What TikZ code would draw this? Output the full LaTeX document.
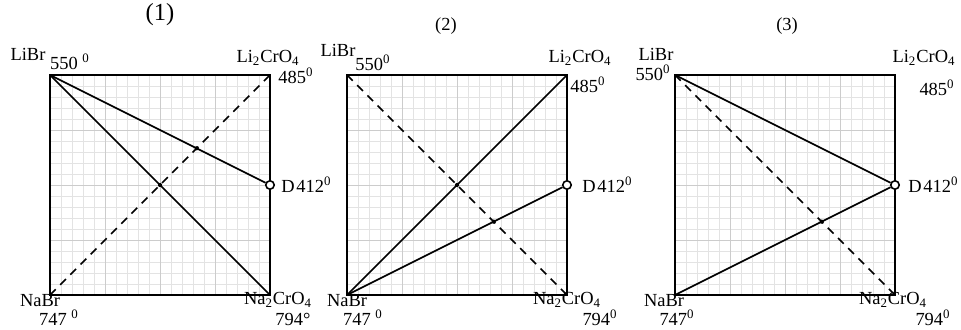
\documentclass[tikz,border=0pt]{standalone}
\usepackage{fontspec}
\setmainfont{Liberation Serif}
\usepackage{tikz}
\usetikzlibrary{
  positioning,
  calc
}
\definecolor{GridMinor}{HTML}{E3E3E3}
\definecolor{GridMajor}{HTML}{CCCCCC}
\tikzset{
  side/.style={
    line width=1.4pt,
    line cap=rect
  },
  tie/.style={
    line width=1pt
  },
  diagonal/.style={
    line width=1pt,
    dash pattern=on 4.6pt off 3.6pt
  },
  minorline/.style={
    draw=GridMinor,
    line width=0.4pt
  },
  majorline/.style={
    draw=GridMajor,
    line width=0.5pt
  },
  salt/.style={
    inner sep=0pt,
    font=\fontsize{10.5}{12}\selectfont
  },
  title/.style={
    inner sep=0pt,
    font=\fontsize{10.5}{12}\selectfont
  },
  eutectic/.style={
    circle,
    draw,
    fill=white,
    line width=0.9pt,
    minimum size=4.8pt,
    inner sep=0pt
  },
  crossing/.style={
    fill=black
  }
}

\begin{document}
\begin{tikzpicture}[
  x=0.02cm,
  y=0.02cm
]

  \useasboundingbox (0,0) rectangle (961,329);

  % ---------- diagram (1)
  \begin{scope}[shift={(50,34)}]
    \foreach \g in {11,22,...,209} {
      \draw[minorline] (\g,0) -- (\g,220);
      \draw[minorline] (0,\g) -- (220,\g);
    }
    \foreach \g in {55,110,165} {
      \draw[majorline] (\g,0) -- (\g,220);
      \draw[majorline] (0,\g) -- (220,\g);
    }

    \coordinate (libr1) at (0,220);
    \coordinate (licr1) at (220,220);
    \coordinate (nabr1) at (0,0);
    \coordinate (nacr1) at (220,0);
    \coordinate (dp1) at (220,110);

    \draw[side]
    (nabr1) rectangle
    (licr1);

    \draw[diagonal]
    (nabr1) --
    (licr1);

    \draw[tie]
    (libr1) --
    (nacr1);

    \node[eutectic] (d1) at (dp1) {};

    \draw[tie]
    (libr1) --
    (d1);

    \fill[crossing]
    (intersection of libr1--dp1 and nabr1--licr1)
    circle[radius=1.2pt];

    \fill[crossing]
    (intersection of libr1--nacr1 and nabr1--licr1)
    circle[radius=1.2pt];

    \node[title, font=\fontsize{14}{16}\selectfont] (t1) at (110,280) {(1)};
    \node[salt] (l1) at (-22,241) {LiBr};
    \node[salt] (lt1) at (20,233) {550 \textsuperscript{0}};
    \node[salt] (r1) at (218,237) {Li\textsubscript{2}CrO\textsubscript{4}};
    \node[salt] (rt1) at (246,219) {485\textsuperscript{0}};
    \node[salt, anchor=west] (dl1) at (231,110) {D\kern1pt412\textsuperscript{0}};
    \node[salt] (n1) at (-10,-6) {NaBr};
    \node[salt] (nt1) at (9,-23) {747 \textsuperscript{0}};
    \node[salt] (c1) at (228,-5) {Na\textsubscript{2}CrO\textsubscript{4}};
    \node[salt] (ct1) at (243,-24) {794°};
  \end{scope}

  % ---------- diagram (2)
  \begin{scope}[shift={(347,34)}]
    \foreach \g in {11,22,...,209} {
      \draw[minorline] (\g,0) -- (\g,220);
      \draw[minorline] (0,\g) -- (220,\g);
    }
    \foreach \g in {55,110,165} {
      \draw[majorline] (\g,0) -- (\g,220);
      \draw[majorline] (0,\g) -- (220,\g);
    }

    \coordinate (libr2) at (0,220);
    \coordinate (licr2) at (220,220);
    \coordinate (nabr2) at (0,0);
    \coordinate (nacr2) at (220,0);
    \coordinate (dp2) at (220,110);

    \draw[side]
    (nabr2) rectangle
    (licr2);

    \draw[diagonal]
    (libr2) --
    (nacr2);

    \draw[tie]
    (nabr2) --
    (licr2);

    \node[eutectic] (d2) at (dp2) {};

    \draw[tie]
    (nabr2) --
    (d2);

    \fill[crossing]
    (intersection of nabr2--dp2 and libr2--nacr2)
    circle[radius=1.2pt];

    \fill[crossing]
    (intersection of nabr2--licr2 and libr2--nacr2)
    circle[radius=1.2pt];

    \node[title] (t2) at (99,269) {(2)};
    \node[salt] (l2) at (-9,245) {LiBr};
    \node[salt] (lt2) at (26,232) {550\textsuperscript{0}};
    \node[salt] (r2) at (233,237) {Li\textsubscript{2}CrO\textsubscript{4}};
    \node[salt] (rt2) at (241,210) {485\textsuperscript{0}};
    \node[salt, anchor=west] (dl2) at (235,110) {D\kern1pt412\textsuperscript{0}};
    \node[salt] (n2) at (0,-6) {NaBr};
    \node[salt] (nt2) at (16,-23) {747 \textsuperscript{0}};
    \node[salt] (c2) at (220,-5) {Na\textsubscript{2}CrO\textsubscript{4}};
    \node[salt] (ct2) at (253,-23) {794\textsuperscript{0}};
  \end{scope}

  % ---------- diagram (3)
  \begin{scope}[shift={(675,34)}]
    \foreach \g in {11,22,...,209} {
      \draw[minorline] (\g,0) -- (\g,220);
      \draw[minorline] (0,\g) -- (220,\g);
    }
    \foreach \g in {55,110,165} {
      \draw[majorline] (\g,0) -- (\g,220);
      \draw[majorline] (0,\g) -- (220,\g);
    }

    \coordinate (libr3) at (0,220);
    \coordinate (licr3) at (220,220);
    \coordinate (nabr3) at (0,0);
    \coordinate (nacr3) at (220,0);
    \coordinate (dp3) at (220,110);

    \draw[side]
    (nabr3) rectangle
    (licr3);

    \draw[diagonal]
    (libr3) --
    (nacr3);

    \node[eutectic] (d3) at (dp3) {};

    \draw[tie]
    (libr3) --
    (d3);

    \draw[tie]
    (nabr3) --
    (d3);

    \fill[crossing]
    (intersection of nabr3--dp3 and libr3--nacr3)
    circle[radius=1.2pt];

    \node[title] (t3) at (112,269) {(3)};
    \node[salt] (l3) at (-19,241) {LiBr};
    \node[salt] (lt3) at (-22,222) {550\textsuperscript{0}};
    \node[salt] (r3) at (249,237) {Li\textsubscript{2}CrO\textsubscript{4}};
    \node[salt] (rt3) at (262,207) {485\textsuperscript{0}};
    \node[salt, anchor=west] (dl3) at (233,110) {D\kern1pt412\textsuperscript{0}};
    \node[salt] (n3) at (-11,-6) {NaBr};
    \node[salt] (nt3) at (2,-23) {747\textsuperscript{0}};
    \node[salt] (c3) at (218,-5) {Na\textsubscript{2}CrO\textsubscript{4}};
    \node[salt] (ct3) at (258,-23) {794\textsuperscript{0}};
  \end{scope}

\end{tikzpicture}
\end{document}
